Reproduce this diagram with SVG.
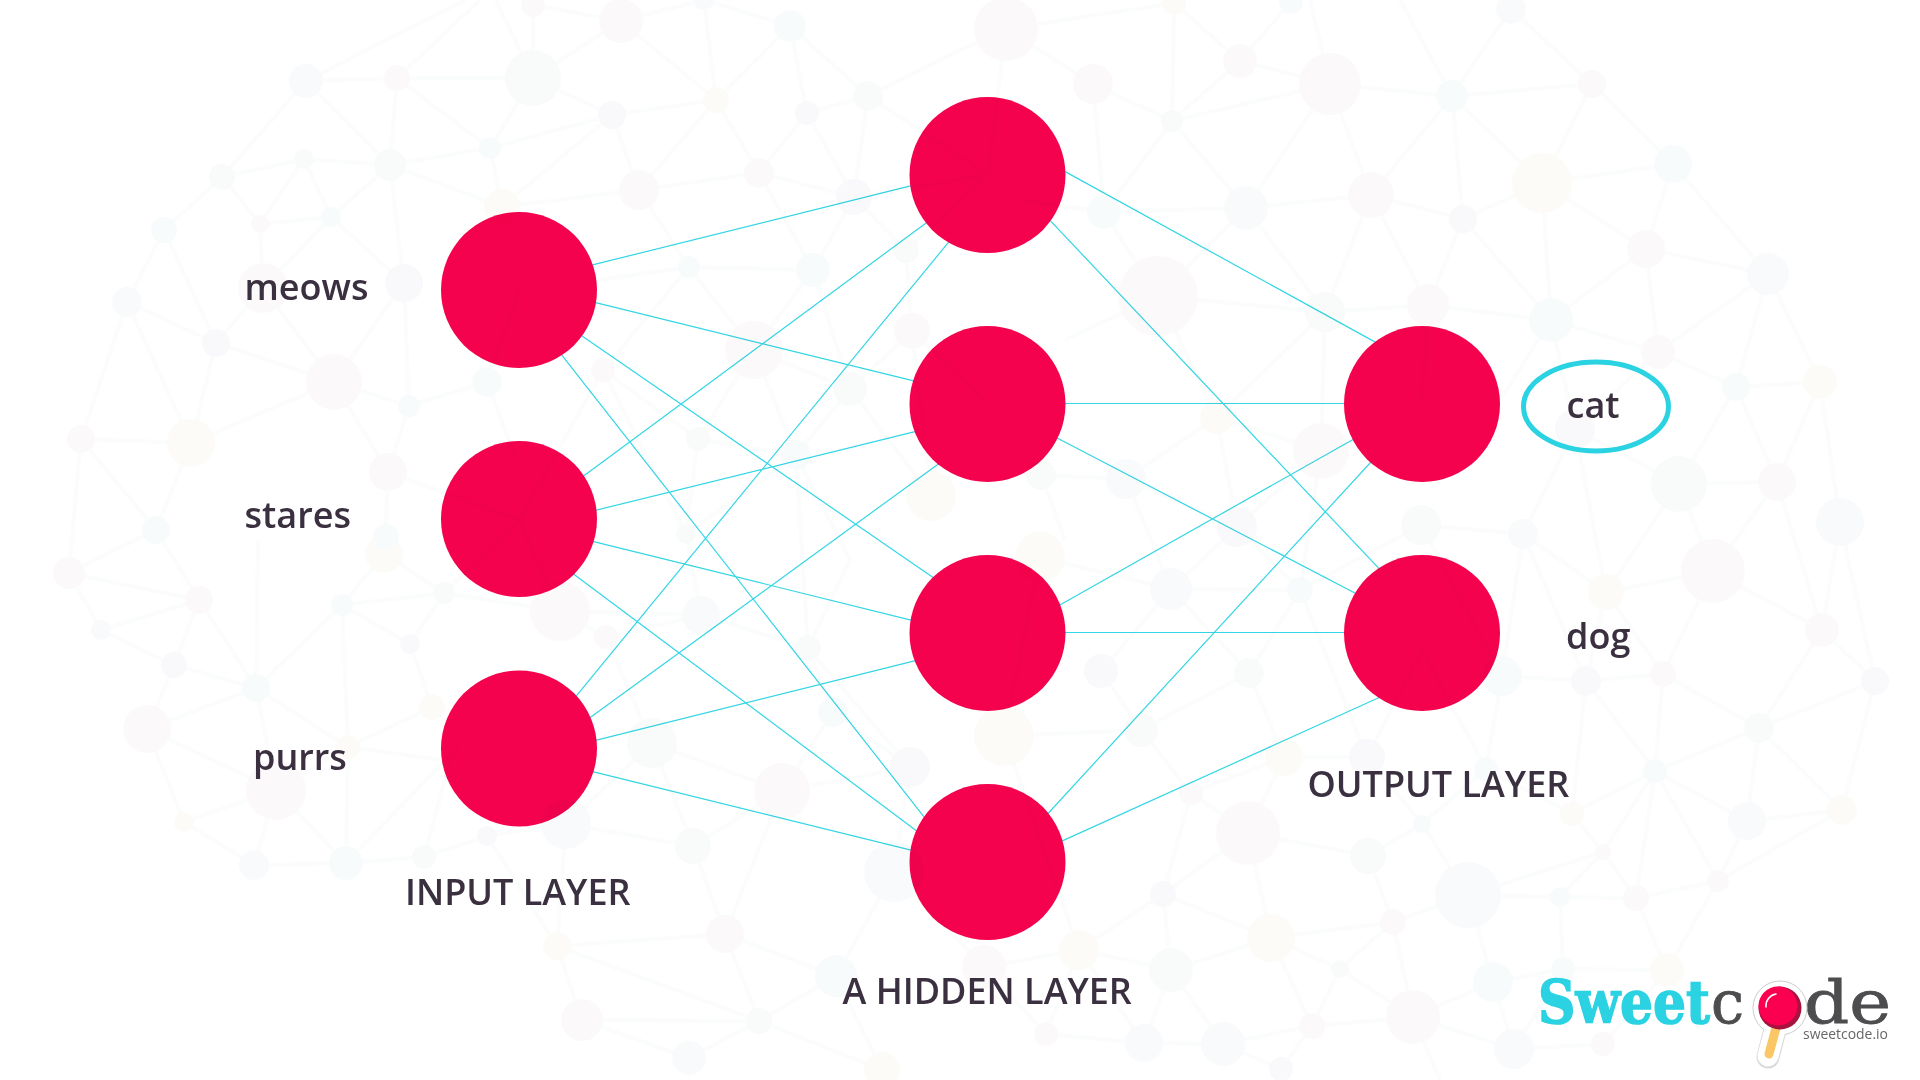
<svg xmlns="http://www.w3.org/2000/svg" width="1920" height="1080" viewBox="0 0 1920 1080">
<style>
.conn{stroke:#33d6e4;stroke-width:1.2;fill:none}
.n{fill:#f5024e}
.t{font-family:"Open Sans","Noto Sans",sans-serif;font-weight:600;font-size:36px;fill:#3a3040}
#background{mix-blend-mode:multiply;opacity:.42}
.bl{fill:none;stroke:#f6f7f7;stroke-width:4}
.b{fill:#f0f3f6}.p{fill:#f8f1f3}.o{fill:#fbf5ef}.g{fill:#eff5f2}.v{fill:#f0eff5}.c{fill:#eff6f6}
</style>
<rect width="1920" height="1080" fill="#fff"/>
<g id="connectors" class="conn">
<path d="M584.500 266.900L919.500 183.600M587.500 300.700L921.900 382.900M571.500 328.800L941.500 583.200M551.200 341.600L933.800 829.300M574.800 482.500L934.900 216.500M587.500 512.300L923.100 429.700M584.500 539.400L920.100 622.300M563.800 566.700L925.700 837.700M565.900 708.600L959.100 229.400M580.600 724.600L947.400 457.400M587.500 742.400L923.500 658.600M584.500 769.700L920.100 852.300M1054.700 165.900L1384.300 347.100M1040.800 210.600L1387.800 577.900M1055 403.500L1355 403.500M1048 433.300L1364 597.700M1051 610L1361 435M1055 632.500L1355 632.500M1037.900 824.500L1379.700 452.500M1053.500 844.900L1387.500 693.700"/>
</g>
<g id="input-1"><circle class="n" cx="519" cy="290" r="78"/></g>
<g id="input-2"><circle class="n" cx="519" cy="519" r="78"/></g>
<g id="input-3"><circle class="n" cx="519" cy="748.500" r="78"/></g>
<g id="hidden-1"><circle class="n" cx="987.500" cy="175" r="78"/></g>
<g id="hidden-2"><circle class="n" cx="987.500" cy="404" r="78"/></g>
<g id="hidden-3"><circle class="n" cx="987.500" cy="633" r="78"/></g>
<g id="hidden-4"><circle class="n" cx="987.500" cy="862" r="78"/></g>
<g id="output-1"><circle class="n" cx="1422" cy="404" r="78"/></g>
<g id="output-2"><circle class="n" cx="1422" cy="633" r="78"/></g>
<g id="background">
<path class="bl" d="M306 81L397 78L533 78M306 81L465 0M397 78L480 0M533 78L496 0M533 78L533 5L621 21L704 0L790 26M621 21L533 78M621 21L716 100M704 0L716 100M790 26L716 100M790 26L807 113M790 26L868 96M807 113L868 96M716 100L612 115L533 78M612 115L490 148M533 78L490 148M397 78L490 148M397 78L390 165M306 81L390 165M306 81L222 177L304 159L390 165L490 148M304 159L331 217M304 159L260 224M390 165L331 217M222 177L260 224M222 177L164 230M260 224L331 217M260 224L263 288M331 217L263 288M331 217L404 283M390 165L404 283M390 165L502 207M490 148L502 207M612 115L502 207M612 115L639 190M716 100L639 190M716 100L759 173M807 113L759 173M807 113L854 197M868 96L854 197M868 96L960 50M759 173L639 190L502 207M639 190L689 267M759 173L813 270M854 197L813 270M854 197L906 250M759 173L854 197M689 267L813 270M689 267L597 280M164 230L127 302M164 230L216 343M127 302L216 343M263 288L216 343M263 288L334 382M404 283L334 382M216 343L334 382M216 343L191 443M127 302L81 439M127 302L191 443M81 439L191 443L334 382L409 406M487 382L409 406M487 382L519 290M487 382L516 460M404 283L409 406L388 472M334 382L388 472M191 443L156 530M81 439L156 530M81 439L69 573M388 472L386 537M689 267L754 350M689 267L603 370M813 270L754 350M813 270L850 389M906 250L912 331L850 389M754 350L850 389M754 350L698 439M754 350L796 455M850 389L796 455M698 439L796 455M698 439L603 370M850 389L931 496M912 331L988 404M854 197L988 175M1006 29L988 175M868 96L988 175M906 250L988 175M1006 29L1093 84M960 50L1006 29L1174 3M1093 84L1172 121L1330 84M1172 121L1174 3M1240 61L1172 121M1240 61L1174 3M1240 61L1330 84M1291 2L1240 61M1330 84L1310 0M1330 84L1452 96L1592 84M1452 96L1400 0M1452 96L1511 9L1592 84L1673 164M1592 84L1542 183M1452 96L1542 183M1452 96L1463 219M1452 96L1371 195M1330 84L1371 195M1330 84L1246 208M1172 121L1246 208M1172 121L1104 212M1093 84L1104 212M1104 212L1246 208L1371 195L1463 219L1542 183L1673 164M1542 183L1646 249M1542 183L1551 320M1673 164L1646 249M1673 164L1768 274M1646 249L1768 274L1658 352M1646 249L1551 320M1646 249L1658 352M1768 274L1736 387M1768 274L1820 382M1658 352L1551 320M1658 352L1736 387L1820 382L1777 482M1736 387L1679 484L1777 482M1820 382L1840 522M1736 387L1777 482M1551 320L1463 219M1551 320L1428 305L1463 219M1371 195L1428 305M1371 195L1325 312L1246 208L1158 296M1104 212L1158 296M1325 312L1428 305M1158 296L1325 312M1158 296L1065 340M1104 212L1020 200M1325 312L1321 451M1158 296L1217 417L1325 312M1428 305L1422 404M1551 320L1575 429L1679 484M1575 429L1658 352M1551 320L1500 400M1679 484L1713 571L1777 482L1822 630L1840 522M1679 484L1606 592L1575 429L1523 534L1421 525M1321 451L1217 417L1237 527L1321 451L1300 590M1126 479L1237 527M1041 475L1126 479L1217 417M1041 475L1065 540M1237 527L1171 589M1237 527L1300 590M1126 479L1171 589L1300 590M1040 557L1171 589M1421 525L1300 590M1421 525L1502 676M1523 534L1502 676M1523 534L1586 681M1606 592L1523 534M1606 592L1586 681M1606 592L1663 674M1713 571L1606 592M1713 571L1663 674M1713 571L1822 630L1875 681L1759 728L1822 630M1840 522L1875 681M1663 674L1759 728M1663 674L1586 681L1502 676M1586 681L1655 771L1663 674M1759 728L1655 771L1747 821L1842 810L1759 728L1747 821M1875 681L1842 810L1718 881L1747 821M1655 771L1572 814L1586 681M1655 771L1603 852L1572 814M1655 771L1636 898L1603 852M1655 771L1718 881L1636 898L1560 897L1603 852L1468 895L1560 897L1563 969M1636 898L1667 970L1718 881M1468 895L1493 982L1563 969L1667 970M1493 982L1413 1017L1393 922L1468 895M1393 922L1368 856M1393 922L1271 938L1340 969L1393 922M1340 969L1413 1017M1271 938L1163 894L1248 833L1368 856L1422 824L1486 769L1572 814M1422 824L1468 895M1284 757L1249 673M1284 757L1367 757L1422 824M1284 757L1191 793L1248 833L1284 757M1141 730L1191 793M1141 730L1101 671M1141 730L1249 673M1141 730L1004 736M1171 589L1101 671M1171 589L1249 673L1300 590M1249 673L1284 757M1367 757L1422 650M1486 769L1502 676M1163 894L1191 793M1163 894L1079 950L1171 970L1163 894M1271 938L1171 970M1271 938L1248 833M1271 938L1312 1026L1340 969M1312 1026L1413 1017L1514 1049L1603 1044L1667 970M1312 1026L1281 1069L1223 1044L1312 1026M1171 970L1223 1044L1144 1043L1171 970M1079 950L1046 1034L1144 1043L1079 950M1493 982L1514 1049L1563 969M1413 1017L1440 1080M984 967L1079 950M984 967L1046 1034M69 573L101 630L199 600L69 573M101 630L174 665L199 600L256 688L174 665L147 729L256 688L276 790L147 729L184 822L276 790L254 865L184 822M276 790L346 863L254 865M256 688L258 540M256 688L342 605L348 747L256 688M342 605L410 644L444 593L342 605L384 554L444 593M410 644L432 707L348 747L276 790M348 747L444 760M348 747L346 863L424 857L487 836L566 824L693 846L652 743L566 824M424 857L450 760M346 863L460 745M693 846L782 791L652 743M782 791L833 712M782 791L910 767L833 712L808 648L910 767M693 846L725 934L836 976L759 1021L725 934L557 946L759 1021L582 1020L557 946M582 1020L689 1058L759 1021L882 1070L836 976L894 872L984 967M782 791L725 934M566 824L557 946L487 836M652 743L606 637L560 611L701 615L606 637M701 615L808 648M808 648L850 560M156 530L199 600M156 530L69 573M388 472L384 554M388 472L519 520M444 593L519 520L560 611L444 593M603 370L519 520M603 370L686 534L698 439M686 534L796 455L808 648M686 534L701 615M796 455L850 560M931 496L912 331M1004 736L1040 557M1004 736L1141 730M1004 736L1079 950M910 767L894 872M1422 650L1486 769M1300 590L1367 757"/>
<g class="b"><circle cx="306" cy="81" r="17"/><circle cx="127" cy="302" r="15"/><circle cx="704" cy="0" r="10"/><circle cx="1246" cy="208" r="22"/><circle cx="1511" cy="9" r="15"/><circle cx="1768" cy="274" r="21"/><circle cx="1840" cy="522" r="24"/><circle cx="1523" cy="534" r="15"/><circle cx="1126" cy="479" r="20"/><circle cx="101" cy="630" r="10"/><circle cx="254" cy="865" r="15"/><circle cx="566" cy="824" r="25"/><circle cx="894" cy="872" r="30"/><circle cx="689" cy="1058" r="17"/><circle cx="1171" cy="589" r="21"/><circle cx="1747" cy="821" r="19"/><circle cx="1468" cy="895" r="33"/><circle cx="1144" cy="1043" r="19"/><circle cx="1223" cy="1044" r="22"/><circle cx="1514" cy="1049" r="20"/><circle cx="701" cy="615" r="19"/></g>
<g class="p"><circle cx="397" cy="78" r="13"/><circle cx="533" cy="5" r="12"/><circle cx="621" cy="21" r="22"/><circle cx="639" cy="190" r="20"/><circle cx="759" cy="173" r="15"/><circle cx="260" cy="224" r="9"/><circle cx="263" cy="288" r="25"/><circle cx="334" cy="382" r="28"/><circle cx="603" cy="370" r="12"/><circle cx="81" cy="439" r="14"/><circle cx="388" cy="472" r="19"/><circle cx="754" cy="350" r="29"/><circle cx="912" cy="331" r="18"/><circle cx="1006" cy="29" r="32"/><circle cx="1093" cy="84" r="20"/><circle cx="1240" cy="61" r="17"/><circle cx="1330" cy="84" r="31"/><circle cx="1592" cy="84" r="14"/><circle cx="1371" cy="195" r="23"/><circle cx="1646" cy="249" r="19"/><circle cx="1158" cy="296" r="40"/><circle cx="1428" cy="305" r="21"/><circle cx="1658" cy="352" r="17"/><circle cx="1321" cy="451" r="28"/><circle cx="1777" cy="482" r="19"/><circle cx="69" cy="573" r="16"/><circle cx="199" cy="600" r="14"/><circle cx="560" cy="611" r="30"/><circle cx="606" cy="637" r="12"/><circle cx="147" cy="729" r="24"/><circle cx="276" cy="790" r="30"/><circle cx="782" cy="791" r="28"/><circle cx="725" cy="934" r="19"/><circle cx="582" cy="1020" r="21"/><circle cx="1713" cy="571" r="32"/><circle cx="1822" cy="630" r="17"/><circle cx="1663" cy="674" r="13"/><circle cx="1191" cy="793" r="12"/><circle cx="1248" cy="833" r="32"/><circle cx="1603" cy="852" r="8"/><circle cx="1718" cy="881" r="11"/><circle cx="1636" cy="898" r="13"/><circle cx="1393" cy="922" r="13"/><circle cx="1413" cy="1017" r="27"/><circle cx="1312" cy="1026" r="13"/><circle cx="1046" cy="1034" r="12"/><circle cx="1603" cy="1044" r="12"/><circle cx="984" cy="967" r="22"/></g>
<g class="o"><circle cx="716" cy="100" r="13"/><circle cx="502" cy="207" r="18"/><circle cx="191" cy="443" r="24"/><circle cx="931" cy="496" r="25"/><circle cx="1174" cy="3" r="12"/><circle cx="1542" cy="183" r="30"/><circle cx="1820" cy="382" r="17"/><circle cx="1217" cy="417" r="17"/><circle cx="384" cy="554" r="19"/><circle cx="432" cy="707" r="13"/><circle cx="348" cy="747" r="12"/><circle cx="184" cy="822" r="10"/><circle cx="557" cy="946" r="14"/><circle cx="882" cy="1070" r="18"/><circle cx="1040" cy="557" r="25"/><circle cx="1606" cy="592" r="18"/><circle cx="1004" cy="736" r="30"/><circle cx="1284" cy="757" r="19"/><circle cx="1842" cy="810" r="15"/><circle cx="1572" cy="814" r="12"/><circle cx="1271" cy="938" r="24"/><circle cx="1079" cy="950" r="20"/><circle cx="1667" cy="970" r="17"/></g>
<g class="g"><circle cx="533" cy="78" r="28"/><circle cx="868" cy="96" r="15"/><circle cx="390" cy="165" r="16"/><circle cx="304" cy="159" r="10"/><circle cx="222" cy="177" r="13"/><circle cx="906" cy="250" r="13"/><circle cx="850" cy="389" r="17"/><circle cx="698" cy="439" r="12"/><circle cx="686" cy="534" r="10"/><circle cx="1172" cy="121" r="11"/><circle cx="1325" cy="312" r="20"/><circle cx="1679" cy="484" r="28"/><circle cx="1041" cy="475" r="15"/><circle cx="1421" cy="525" r="20"/><circle cx="444" cy="593" r="11"/><circle cx="424" cy="857" r="12"/><circle cx="652" cy="743" r="25"/><circle cx="693" cy="846" r="18"/><circle cx="808" cy="648" r="13"/><circle cx="759" cy="1021" r="13"/><circle cx="1249" cy="673" r="15"/><circle cx="1368" cy="856" r="18"/><circle cx="1141" cy="730" r="17"/><circle cx="1171" cy="970" r="22"/><circle cx="1340" cy="969" r="9"/><circle cx="1759" cy="728" r="15"/></g>
<g class="v"><circle cx="612" cy="115" r="14"/><circle cx="807" cy="113" r="12"/><circle cx="854" cy="197" r="18"/><circle cx="404" cy="283" r="19"/><circle cx="216" cy="343" r="14"/><circle cx="1463" cy="219" r="14"/><circle cx="1575" cy="429" r="20"/><circle cx="1237" cy="527" r="20"/><circle cx="174" cy="665" r="13"/><circle cx="410" cy="644" r="10"/><circle cx="487" cy="836" r="10"/><circle cx="910" cy="767" r="20"/><circle cx="1101" cy="671" r="17"/><circle cx="1586" cy="681" r="15"/><circle cx="1875" cy="681" r="14"/><circle cx="1367" cy="757" r="18"/><circle cx="1163" cy="894" r="13"/><circle cx="1281" cy="1069" r="12"/></g>
<g class="c"><circle cx="790" cy="26" r="16"/><circle cx="490" cy="148" r="11"/><circle cx="331" cy="217" r="10"/><circle cx="164" cy="230" r="13"/><circle cx="487" cy="382" r="15"/><circle cx="409" cy="406" r="11"/><circle cx="689" cy="267" r="11"/><circle cx="813" cy="270" r="17"/><circle cx="796" cy="455" r="15"/><circle cx="156" cy="530" r="14"/><circle cx="386" cy="537" r="13"/><circle cx="1291" cy="2" r="12"/><circle cx="1452" cy="96" r="16"/><circle cx="1673" cy="164" r="19"/><circle cx="1104" cy="212" r="17"/><circle cx="1551" cy="320" r="22"/><circle cx="1736" cy="387" r="14"/><circle cx="342" cy="605" r="11"/><circle cx="256" cy="688" r="14"/><circle cx="346" cy="863" r="17"/><circle cx="833" cy="712" r="15"/><circle cx="836" cy="976" r="21"/><circle cx="1300" cy="590" r="13"/><circle cx="1502" cy="676" r="20"/><circle cx="1655" cy="771" r="12"/><circle cx="1422" cy="824" r="9"/><circle cx="1486" cy="769" r="12"/><circle cx="1560" cy="897" r="10"/><circle cx="1493" cy="982" r="20"/><circle cx="1563" cy="969" r="12"/></g>
</g>
<g id="label-cat"><ellipse cx="1596" cy="406.500" rx="72.500" ry="44.500" fill="none" stroke="#2ad2e2" stroke-width="5"/><text class="t" x="1566.500" y="418">cat</text></g>
<text class="t" x="244.500" y="300">meows</text>
<text class="t" x="244.500" y="528">stares</text>
<text class="t" x="253" y="770">purrs</text>
<text class="t" x="1566" y="649">dog</text>
<text class="t" x="405" y="905">INPUT LAYER</text>
<text class="t" x="842.500" y="1004">A HIDDEN LAYER</text>
<text class="t" x="1307.500" y="797">OUTPUT LAYER</text>
<g id="logo">
<text x="1538" y="1023" textLength="172" lengthAdjust="spacingAndGlyphs" font-family="DejaVu Serif,serif" font-weight="700" font-size="60" fill="#2ad2e2" stroke="#2ad2e2" stroke-width="1.5">Sweet</text>
<text x="1711" y="1023" font-family="DejaVu Serif,serif" font-size="59" fill="#4d4d4f" stroke="#4d4d4f" stroke-width=".8">c</text>
<text x="1804" y="1023" textLength="87" lengthAdjust="spacingAndGlyphs" font-family="DejaVu Serif,serif" font-size="59" fill="#4d4d4f" stroke="#4d4d4f" stroke-width=".8">de</text>
<text x="1803" y="1039" textLength="85" lengthAdjust="spacingAndGlyphs" font-family="Open Sans,sans-serif" font-size="14" fill="#666">sweetcode.io</text>
<line x1="1775" y1="1030" x2="1768" y2="1057" stroke="#000" stroke-opacity=".15" stroke-width="23" stroke-linecap="round"/>
<circle cx="1780" cy="1008" r="27" fill="#fff" stroke="#ccc" stroke-width="1"/>
<line x1="1775" y1="1030" x2="1768" y2="1056" stroke="#fff" stroke-width="21" stroke-linecap="round"/>
<line x1="1776" y1="1028" x2="1769" y2="1054" stroke="#fbc766" stroke-width="9" stroke-linecap="round"/>
<circle cx="1780" cy="1008" r="21.500" fill="#a8123f"/>
<circle cx="1778" cy="1006" r="19.500" fill="#fb0050"/>
<path d="M1766 1007A12 12 0 0 1 1776 994" fill="none" stroke="#fff" stroke-width="1.500" stroke-linecap="round"/>
</g>
</svg>
